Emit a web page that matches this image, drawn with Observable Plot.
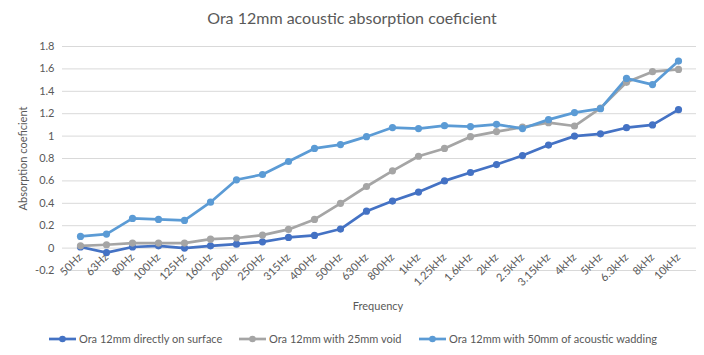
<!DOCTYPE html>
<html><head><meta charset="utf-8">
<script src="https://cdn.jsdelivr.net/npm/d3@7"></script>
<script src="https://cdn.jsdelivr.net/npm/@observablehq/plot@0.6"></script>
<style>
body{margin:0;background:#fff;font-family:Lato,"Open Sans",sans-serif;color:#595959;}
#wrap{width:704px;height:355px;position:relative;overflow:hidden}
#title{height:35px;line-height:36px;text-align:center;font-size:16px;color:#595959}
#xlabel{position:absolute;left:0;width:100%;top:299px;text-align:center;font-size:11px;color:#595959;padding-left:52px;box-sizing:border-box}
#legend{position:absolute;left:0;top:327px}
</style></head>
<body><div id="wrap"><div id="title">Ora 12mm acoustic absorption coeficient</div><div id="chart"></div><div id="xlabel">Frequency</div><div id="legend"></div></div>
<script>
const frequencies = ["50Hz","63Hz","80Hz","100Hz","125Hz","160Hz","200Hz","250Hz","315Hz","400Hz","500Hz","630Hz","800Hz","1kHz","1.25kHz","1.6kHz","2kHz","2.5kHz","3.15kHz","4kHz","5kHz","6.3kHz","8kHz","10kHz"];
const seriesNames = ["Ora 12mm directly on surface","Ora 12mm with 25mm void","Ora 12mm with 50mm of acoustic wadding"];
const seriesColors = ["#4472C4","#A5A5A5","#5B9BD5"];
const directOnSurface = [0.01,-0.04,0.01,0.02,0.0,0.02,0.035,0.056,0.095,0.113,0.17,0.33,0.42,0.50,0.60,0.675,0.746,0.826,0.92,1.00,1.02,1.075,1.10,1.236];
const void25mm = [0.02,0.03,0.045,0.045,0.045,0.08,0.09,0.116,0.167,0.256,0.40,0.55,0.69,0.82,0.89,0.995,1.04,1.08,1.12,1.09,1.25,1.48,1.575,1.595];
const wadding50mm = [0.104,0.125,0.265,0.256,0.247,0.41,0.61,0.657,0.773,0.89,0.924,0.995,1.076,1.067,1.093,1.085,1.105,1.067,1.147,1.21,1.245,1.515,1.46,1.67];
const yTicks = [-0.2,0,0.2,0.4,0.6,0.8,1,1.2,1.4,1.6,1.8];

const allSeries = [directOnSurface, void25mm, wadding50mm];
const data = allSeries.flatMap((vals, s) => vals.map((v, i) => ({freq: frequencies[i], value: v, series: seriesNames[s]})));

const chart = Plot.plot({
  width: 704, height: 262,
  marginLeft: 62, marginRight: 8, marginTop: 11, marginBottom: 27,
  style: {fontFamily: "Lato, 'Open Sans', sans-serif", fontSize: "11px", color: "#595959", background: "transparent", overflow: "visible"},
  x: {type: "point", domain: frequencies, padding: 0.5},
  y: {domain: [-0.2, 1.8]},
  color: {domain: seriesNames, range: seriesColors},
  marks: [
    Plot.ruleY(yTicks, {stroke: "#D9D9D9", strokeWidth: 1}),
    Plot.axisY({ticks: yTicks, tickSize: 0, tickPadding: 8, tickFormat: d => String(+d.toFixed(1)), label: "Absorption coeficient", labelAnchor: "center", labelArrow: "none", labelOffset: 43, fill: "#595959"}),
    Plot.axisX({tickSize: 0, tickRotate: -45, tickPadding: 4, dy: -19, label: null, fill: "#595959"}),
    Plot.line(data, {x: "freq", y: "value", z: "series", stroke: "series", strokeWidth: 2.7}),
    Plot.dot(data, {x: "freq", y: "value", fill: "series", r: 3.6})
  ]
});
document.getElementById("chart").appendChild(chart);

// legend: swatch start x, text start x
const legendLayout = [[49, 79], [239, 269], [419, 449]];
let svg = `<svg width="704" height="24">`;
seriesNames.forEach((name, i) => {
  const [sx, tx] = legendLayout[i];
  svg += `<line x1="${sx}" x2="${sx + 27}" y1="12" y2="12" stroke="${seriesColors[i]}" stroke-width="2.7"/>`;
  svg += `<circle cx="${sx + 13.5}" cy="12" r="3.3" fill="${seriesColors[i]}"/>`;
  svg += `<text x="${tx}" y="16" font-size="11" fill="#595959" font-family="Lato, 'Open Sans', sans-serif">${name}</text>`;
});
svg += `</svg>`;
document.getElementById("legend").innerHTML = svg;
</script></body></html>
